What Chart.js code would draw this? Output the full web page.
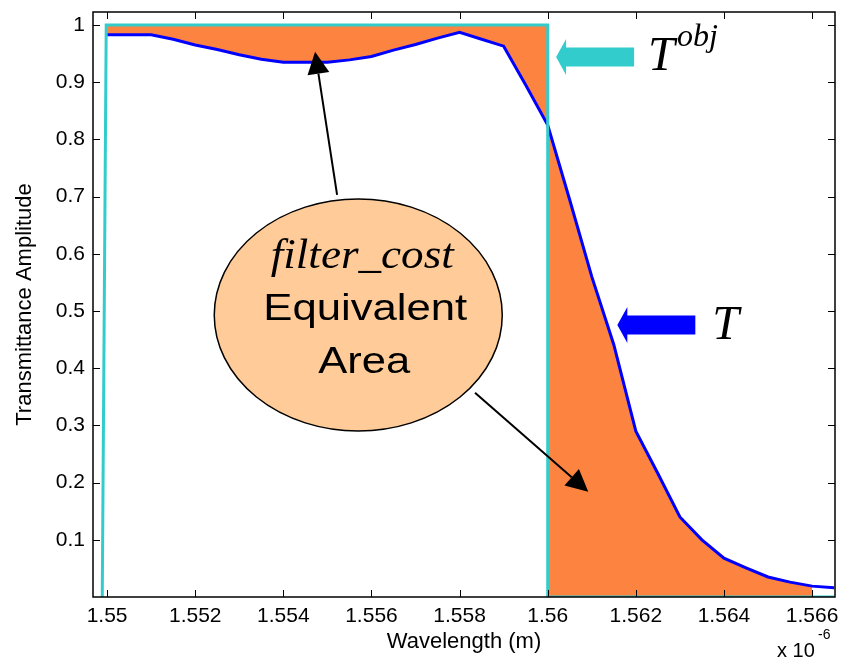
<!DOCTYPE html>
<html>
<head>
<meta charset="utf-8">
<script src="https://cdn.jsdelivr.net/npm/chart.js@4.4.1/dist/chart.umd.min.js"></script>
<style>
  html, body { margin: 0; padding: 0; background: #fff; }
</style>
</head>
<body>
<canvas id="chart" width="841" height="664"></canvas>
<script>
// Wavelength in units of 1e-6 m
const wavelength = [
  1.5500, 1.5505, 1.5510, 1.5515, 1.5520, 1.5525, 1.5530, 1.5535, 1.5540, 1.5545,
  1.5550, 1.5555, 1.5560, 1.5565, 1.5570, 1.5575, 1.5580, 1.5585, 1.5590, 1.5595,
  1.5600, 1.5605, 1.5610, 1.5615, 1.5620, 1.5625, 1.5630, 1.5635, 1.5640, 1.5645,
  1.5650, 1.5655, 1.5660, 1.5665
];
// T (actual filter response)
const transmittance = [
  0.983, 0.983, 0.983, 0.975, 0.965, 0.957, 0.948, 0.940, 0.935, 0.935,
  0.935, 0.939, 0.945, 0.956, 0.966, 0.977, 0.987, 0.975, 0.963, 0.895,
  0.825, 0.694, 0.560, 0.441, 0.290, 0.216, 0.140, 0.100, 0.068, 0.051,
  0.035, 0.026, 0.019, 0.016
];
// T_obj (objective response)
const objWavelength = [1.54989, 1.54992, 1.54995, 1.54998, 1.5600, 1.5600, 1.5665];
const objTransmittance = [0, 0.333, 0.667, 1, 1, 0, 0];

const xTicks = [1.550, 1.552, 1.554, 1.556, 1.558, 1.560, 1.562, 1.564, 1.566];
const yTicks = [0.1, 0.2, 0.3, 0.4, 0.5, 0.6, 0.7, 0.8, 0.9, 1.0];
const xRange = [1.54968, 1.56652];
const yRange = [0, 1.0227];

const passStart = 1.550;
const bandEdge = 1.560;
const costEnd = 1.566;

const toPoints = (xs, ys) => xs.map((x, i) => ({ x: x, y: ys[i] }));
const tPoints = toPoints(wavelength, transmittance);
const objPoints = toPoints(objWavelength, objTransmittance);
const objLevel = Math.max(...objTransmittance);
const passPoints = tPoints.filter(p => p.x >= passStart && p.x <= bandEdge);
const stopPoints = tPoints.filter(p => p.x >= bandEdge && p.x <= costEnd);

const ORANGE = '#fd8340';
const CYAN = '#33cccc';
const BLUE = '#0000ff';

// box + inward ticks, matlab style
const boxPlugin = {
  id: 'box',
  afterDatasetsDraw(chart) {
    const { ctx, chartArea: a, scales: { x, y } } = chart;
    const len = 7;
    ctx.save();
    ctx.strokeStyle = '#000';
    ctx.lineWidth = 1;
    ctx.beginPath();
    xTicks.forEach(v => {
      const px = Math.round(x.getPixelForValue(v)) + 0.5;
      ctx.moveTo(px, a.bottom); ctx.lineTo(px, a.bottom - len);
      ctx.moveTo(px, a.top); ctx.lineTo(px, a.top + len);
    });
    yTicks.forEach(v => {
      const py = Math.round(y.getPixelForValue(v)) + 0.5;
      ctx.moveTo(a.left, py); ctx.lineTo(a.left + len, py);
      ctx.moveTo(a.right, py); ctx.lineTo(a.right - len, py);
    });
    ctx.stroke();
    ctx.lineWidth = 1.5;
    ctx.strokeRect(a.left, a.top, a.right - a.left, a.bottom - a.top);
    ctx.restore();
  }
};

function lineArrow(ctx, x1, y1, x2, y2, headLen, headW) {
  const ang = Math.atan2(y2 - y1, x2 - x1);
  ctx.beginPath();
  ctx.moveTo(x1, y1);
  ctx.lineTo(x2 - headLen * Math.cos(ang), y2 - headLen * Math.sin(ang));
  ctx.stroke();
  ctx.save();
  ctx.translate(x2, y2);
  ctx.rotate(ang);
  ctx.beginPath();
  ctx.moveTo(0, 0);
  ctx.lineTo(-headLen, -headW / 2);
  ctx.lineTo(-headLen, headW / 2);
  ctx.closePath();
  ctx.fill();
  ctx.restore();
}

// block arrow pointing left, tip at (tx, ty)
function blockArrow(ctx, tx, ty, color) {
  ctx.fillStyle = color;
  ctx.beginPath();
  ctx.moveTo(tx, ty);
  ctx.lineTo(tx + 10, ty - 18);
  ctx.lineTo(tx + 10, ty - 9.5);
  ctx.lineTo(tx + 78, ty - 9.5);
  ctx.lineTo(tx + 78, ty + 9.5);
  ctx.lineTo(tx + 10, ty + 9.5);
  ctx.lineTo(tx + 10, ty + 18);
  ctx.closePath();
  ctx.fill();
}

function fitText(ctx, text, cx, baseline, font, width) {
  ctx.font = font;
  const w = ctx.measureText(text).width;
  ctx.save();
  ctx.translate(cx, baseline);
  ctx.scale(width / w, 1);
  ctx.textAlign = 'center';
  ctx.textBaseline = 'alphabetic';
  ctx.fillText(text, 0, 0);
  ctx.restore();
}

const notesPlugin = {
  id: 'notes',
  afterDraw(chart) {
    const { ctx, scales: { x, y } } = chart;
    const P = (vx, vy) => [x.getPixelForValue(vx), y.getPixelForValue(vy)];
    ctx.save();

    // callout arrows
    ctx.strokeStyle = '#000';
    ctx.fillStyle = '#000';
    ctx.lineWidth = 2;
    let [ax1, ay1] = P(1.55522, 0.703);
    let [ax2, ay2] = P(1.55472, 0.953);
    lineArrow(ctx, ax1, ay1, ax2, ay2, 22, 22);
    [ax1, ay1] = P(1.55835, 0.357);
    [ax2, ay2] = P(1.56092, 0.184);
    lineArrow(ctx, ax1, ay1, ax2, ay2, 22, 22);

    // ellipse
    const [ex, ey] = P(1.55570, 0.493);
    ctx.beginPath();
    ctx.ellipse(ex, ey, 144, 116, 0, 0, Math.PI * 2);
    ctx.fillStyle = '#ffcc99';
    ctx.fill();
    ctx.lineWidth = 1.5;
    ctx.stroke();

    ctx.fillStyle = '#000';
    fitText(ctx, 'filter_cost', ex + 4, ey - 47, "italic 42px 'Liberation Serif', 'Times New Roman', serif", 183);
    fitText(ctx, 'Equivalent', ex + 7, ey + 5, "36px 'Liberation Sans', Arial, sans-serif", 204);
    fitText(ctx, 'Area', ex + 6, ey + 58, "36px 'Liberation Sans', Arial, sans-serif", 92);

    // T_obj label
    const [cx, cy] = P(1.56019, 0.944);
    blockArrow(ctx, cx, cy, CYAN);
    ctx.fillStyle = '#000';
    ctx.textAlign = 'left';
    ctx.textBaseline = 'alphabetic';
    ctx.font = "italic 48px 'Liberation Serif', 'Times New Roman', serif";
    ctx.fillText('T', cx + 92, cy + 13);
    ctx.font = "italic 32px 'Liberation Serif', 'Times New Roman', serif";
    ctx.fillText('obj', cx + 121, cy - 11);

    // T label
    const [bx, by] = P(1.56158, 0.4755);
    blockArrow(ctx, bx, by, BLUE);
    ctx.fillStyle = '#000';
    ctx.font = "italic 48px 'Liberation Serif', 'Times New Roman', serif";
    ctx.fillText('T', bx + 95, by + 14);

    // exponent
    ctx.font = "20px 'Liberation Sans', Arial, sans-serif";
    ctx.fillText('x 10', 777, 657);
    ctx.font = "14px 'Liberation Sans', Arial, sans-serif";
    ctx.fillText('-6', 818, 639);
    ctx.restore();
  }
};

Chart.defaults.font.family = "'Liberation Sans', Arial, sans-serif";
Chart.defaults.color = '#000';

const ctx = document.getElementById('chart').getContext('2d');
new Chart(ctx, {
  type: 'line',
  data: {
    datasets: [
      {
        label: 'cost passband',
        data: passPoints,
        borderWidth: 0,
        backgroundColor: ORANGE,
        fill: { value: objLevel },
        pointRadius: 0,
        order: 4
      },
      {
        label: 'cost stopband',
        data: stopPoints,
        borderWidth: 0,
        backgroundColor: ORANGE,
        fill: 'origin',
        pointRadius: 0,
        order: 3
      },
      {
        label: 'T',
        data: tPoints,
        borderColor: BLUE,
        borderWidth: 3,
        fill: false,
        pointRadius: 0,
        tension: 0,
        order: 2
      },
      {
        label: 'Tobj',
        data: objPoints,
        borderColor: CYAN,
        borderWidth: 3,
        fill: false,
        pointRadius: 0,
        tension: 0,
        order: 1
      }
    ]
  },
  options: {
    responsive: false,
    animation: false,
    events: [],
    layout: { padding: { left: 0, right: 6, top: 12, bottom: 0 } },
    plugins: {
      legend: { display: false },
      tooltip: { enabled: false },
      filler: { drawTime: 'beforeDatasetsDraw' }
    },
    scales: {
      x: {
        type: 'linear',
        min: xRange[0],
        max: xRange[1],
        grid: { display: false, drawTicks: false },
        border: { display: false },
        afterBuildTicks: s => { s.ticks = xTicks.map(v => ({ value: v })); },
        afterFit: s => { s.height = 67; s.paddingLeft = 0; s.paddingRight = 0; },
        ticks: {
          font: { size: 21 },
          padding: 7,
          maxRotation: 0,
          autoSkip: false,
          callback: v => String(+v.toFixed(3))
        },
        title: {
          display: true,
          text: 'Wavelength (m)',
          font: { size: 22 },
          padding: { top: 0, bottom: 9 }
        }
      },
      y: {
        type: 'linear',
        min: yRange[0],
        max: yRange[1],
        grid: { display: false, drawTicks: false },
        border: { display: false },
        afterBuildTicks: s => { s.ticks = yTicks.map(v => ({ value: v })); },
        afterFit: s => { s.width = 93; s.paddingTop = 0; s.paddingBottom = 0; },
        ticks: {
          font: { size: 21 },
          padding: 8,
          autoSkip: false,
          callback: v => String(+v.toFixed(1))
        },
        title: {
          display: true,
          text: 'Transmittance Amplitude',
          font: { size: 22 },
          padding: { top: 12, bottom: 0 }
        }
      }
    }
  },
  plugins: [boxPlugin, notesPlugin]
});
</script>
</body>
</html>
